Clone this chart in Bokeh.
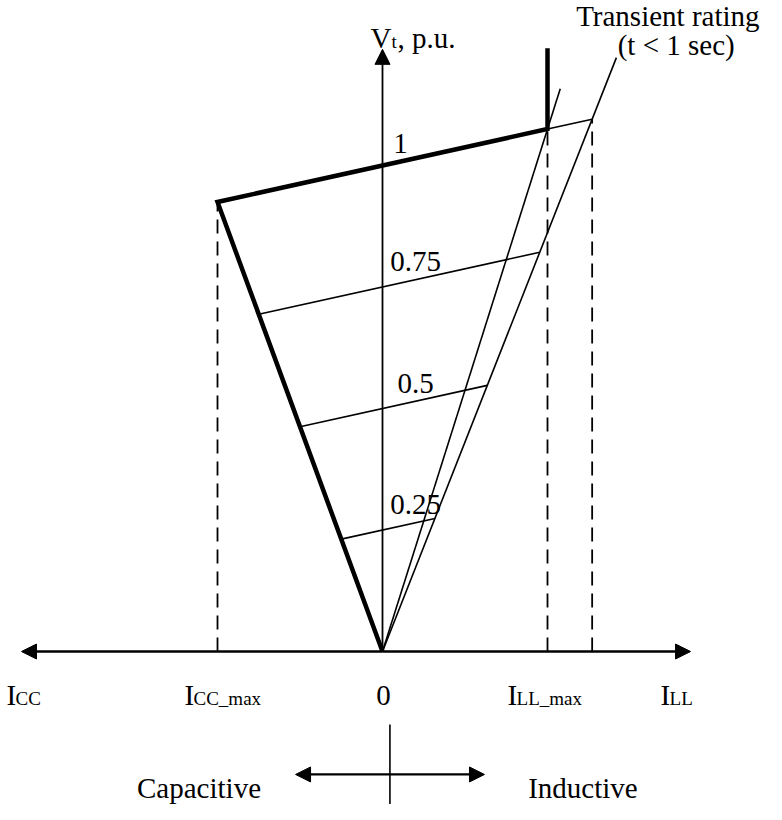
from bokeh.plotting import figure
from bokeh.models import Range1d, Arrow, NormalHead
from bokeh.core.properties import value
from bokeh.embed import file_html
from bokeh.resources import INLINE

# ---------------- data (per-unit schematic values) ----------------
V_LEVELS = [0.25, 0.5, 0.75, 1.0]          # reference voltages
LEVEL_LABELS = ["0.25", "0.5", "0.75", "1"]
SLOPE_XS = 0.075                            # slope reactance of V-I lines
I_CC_MAX = -1.0                             # max capacitive current
I_LL_MAX = 1.0                              # max inductive current (continuous)
K_CAP = 0.925                               # V/I of capacitive limit line
K_IND = 1.075                               # V/I of continuous inductive limit
K_TRANS = 0.862                             # V/I of transient-rating line
V_TOP_IND = 1.158                           # upper end of inductive line
V_TOP_TRANS = 1.222                         # upper end of transient line
V_TOP_LIMIT = 1.241                         # upper end of vertical current limit
I_AXIS = [-2.188, 1.867]                    # current axis extent
V_AXIS_TOP = 1.239                          # voltage axis extent
AXIS_LABELS = ["CC", "CC_max", "LL_max", "LL"]
AXIS_LABEL_I = [-2.279, -1.2, 0.758, 1.685]

FONT = "Liberation Serif"
FS = "29px"
FS_SUB = "19px"

# ---------------- figure ----------------
p = figure(width=766, height=804,
           x_range=Range1d(-2.3152, 2.3273), y_range=Range1d(-0.3148, 1.3395),
           output_backend="svg", toolbar_location=None,
           x_axis_type=None, y_axis_type=None, min_border=0)
p.outline_line_color = None
p.background_fill_color = "white"
p.border_fill_color = "white"

# derived geometry
v_corner_cap = K_CAP * abs(I_CC_MAX)
v_ll = 1.0 + SLOPE_XS * I_LL_MAX
i_trans = 1.0 / (K_TRANS - SLOPE_XS)
v_trans = 1.0 + SLOPE_XS * i_trans

# thin reference lines at 0.25, 0.5, 0.75 (from capacitive line to transient line)
x0s, y0s, x1s, y1s = [], [], [], []
for v in V_LEVELS[:-1]:
    il = -v / (SLOPE_XS + K_CAP)
    ir = v / (K_TRANS - SLOPE_XS)
    x0s.append(il); y0s.append(v + SLOPE_XS * il)
    x1s.append(ir); y1s.append(v + SLOPE_XS * ir)
# thin extension of 1.0 line beyond I_LL_MAX
x0s.append(I_LL_MAX); y0s.append(v_ll)
x1s.append(i_trans); y1s.append(v_trans)
# inductive lines from origin
x0s += [0.0, 0.0]; y0s += [0.0, 0.0]
x1s += [V_TOP_IND / K_IND, V_TOP_TRANS / K_TRANS]; y1s += [V_TOP_IND, V_TOP_TRANS]
p.segment(x0=x0s, y0=y0s, x1=x1s, y1=y1s, line_color="black", line_width=1.6)

# dashed verticals
p.segment(x0=[I_CC_MAX, I_LL_MAX, i_trans], y0=[0, 0, 0],
          x1=[I_CC_MAX, I_LL_MAX, i_trans], y1=[v_corner_cap, v_ll, v_trans],
          line_color="black", line_width=1.8, line_dash="14 8")

# thick operating characteristic
p.line(x=[0.0, I_CC_MAX, I_LL_MAX, I_LL_MAX],
       y=[0.0, v_corner_cap, v_ll, V_TOP_LIMIT],
       line_color="black", line_width=4.5, line_join="miter")

# axes with arrowheads
head = dict(size=15, fill_color="black", line_color="black", line_width=1)
p.add_layout(Arrow(x_start=0, y_start=0, x_end=0, y_end=V_AXIS_TOP,
                   end=NormalHead(**head), line_width=1.8, line_color="black"))
p.add_layout(Arrow(x_start=0, y_start=0, x_end=I_AXIS[0], y_end=0,
                   end=NormalHead(**head), line_width=2.6, line_color="black"))
p.add_layout(Arrow(x_start=0, y_start=0, x_end=I_AXIS[1], y_end=0,
                   end=NormalHead(**head), line_width=2.6, line_color="black"))

# capacitive / inductive direction cross
p.segment(x0=[0.045], y0=[-0.150], x1=[0.045], y1=[-0.33], line_color="black", line_width=1.6)
p.add_layout(Arrow(x_start=-0.527, y_start=-0.253, x_end=0.618, y_end=-0.253,
                   start=NormalHead(**head), end=NormalHead(**head),
                   line_width=2.2, line_color="black"))

# ---------------- texts ----------------
def txt(x, y, t, size=FS, align="left", baseline="alphabetic", xo=0, yo=0):
    p.text(x=x, y=y, text=t, text_font=value(FONT), text_font_size=value(size),
           text_align=align, text_baseline=baseline, text_color="black",
           x_offset=xo, y_offset=yo)

# level labels
lab_i = [0.2, 0.2, 0.2, 0.109]
lab_v = [v + SLOPE_XS * i for v, i in zip(V_LEVELS, lab_i)]
txt(lab_i, lab_v, LEVEL_LABELS, align="center", baseline="middle", yo=-18)

# current axis labels: main "I" plus subscript
base_v = -0.0905
txt(AXIS_LABEL_I, [base_v] * 4, ["I"] * 4)
txt(AXIS_LABEL_I, [base_v] * 4, AXIS_LABELS, size=FS_SUB, xo=9, yo=3)
txt([0.006], [base_v], ["0"], align="center")

# voltage axis label
txt([-0.073], [1.262], ["V"])
txt([-0.073], [1.262], ["t"], size=FS_SUB, xo=21, yo=3)
txt([-0.073], [1.262], [", p.u."], xo=27)

# transient rating
txt([2.285], [1.307], ["Transient rating"], align="right")
txt([1.78], [1.248], ["(t < 1 sec)"], align="center")

# capacitive / inductive
txt([-1.112, 1.215], [-0.280, -0.280], ["Capacitive", "Inductive"], align="center")

open("out.html", "w").write(file_html(p, INLINE))
